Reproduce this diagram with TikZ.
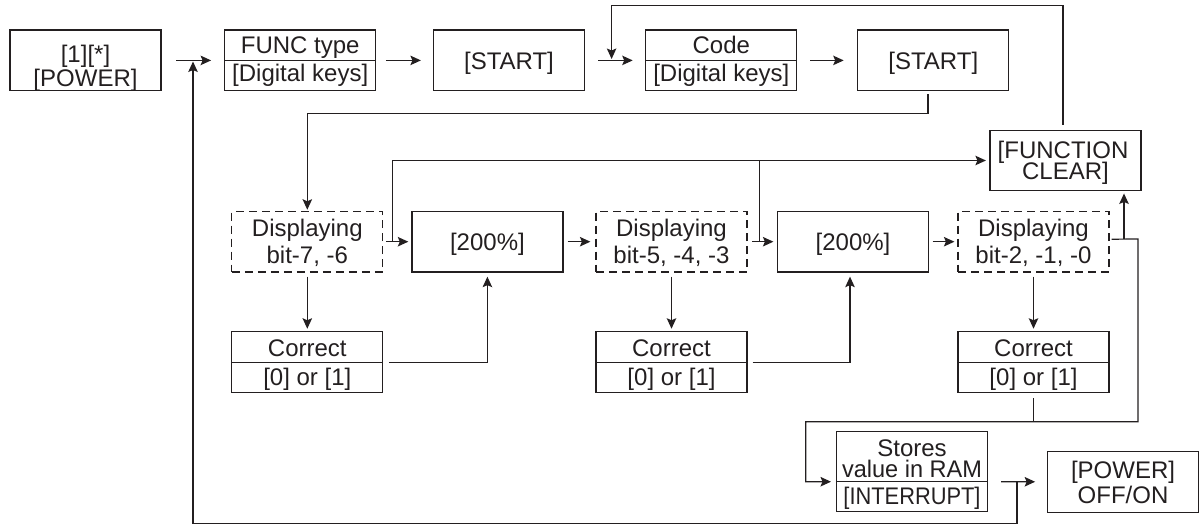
\documentclass[tikz,border=0pt]{standalone}
\usepackage{fontspec}
\usepackage{graphicx}
\setmainfont{Liberation Sans}
\usetikzlibrary{arrows.meta,calc}
\definecolor{ink}{RGB}{35,31,32}
\newcommand\fsz{\fontsize{24}{24}\selectfont}
\tikzset{
  box/.style={draw=ink, line width=1.2pt, minimum width=151pt, minimum height=60.7pt, inner sep=0pt},
  dbox/.style={box, dash pattern=on 8pt off 5pt},
  txt/.style={inner sep=0pt, anchor=base, font=\fsz, text=ink},
  ln/.style={draw=ink, line width=1.2pt},
  arr/.style={ln, -{Stealth[length=10.5pt, width=9.5pt, inset=2pt]}}
}
\begin{document}
\begin{tikzpicture}[x=1pt, y=-1pt]
\useasboundingbox (0,0) rectangle (1199,525);

% ---- top row ----
\node[box] (pw) at (85.5,60.4) {};
\node[txt] (pw-a) at (85.5,62.7) {[1][*]};
\node[txt] (pw-b) at (85.5,86) {[POWER]};

\node[box] (func) at (300.2,60.4) {};
\node[txt] (func-a) at (300.2,53.3) {FUNC type};
\node[txt] (func-b) at (300.2,81.7) {[Digital keys]};
\draw[ln] (func.west) -- (func.east);

\node[box] (st1) at (509,60.4) {};
\node[txt] (st1-a) at (509,69) {[START]};

\node[box] (code) at (721.3,60.4) {};
\node[txt] (code-a) at (721.3,53.3) {Code};
\node[txt] (code-b) at (721.3,81.7) {[Digital keys]};
\draw[ln] (code.west) -- (code.east);

\node[box] (st2) at (933.3,60.4) {};
\node[txt] (st2-a) at (933.3,69) {[START]};

% ---- function clear ----
\node[box] (fc) at (1065.5,160.5) {};
\node[txt] (fc-a) at (1063,158.3) {[FUNCTION};
\node[txt] (fc-b) at (1065.5,179.7) {CLEAR]};

% ---- display / 200% row ----
\node[dbox] (d1) at (307.3,241.7) {};
\node[txt] (d1-a) at (307.3,236.7) {Displaying};
\node[txt] (d1-b) at (307.3,263.3) {bit-7, -6};

\node[box] (p1) at (487.4,241.7) {};
\node[txt] (p1-a) at (487.4,250) {[200\%]};

\node[dbox] (d2) at (671.5,241.7) {};
\node[txt] (d2-a) at (671.5,236.7) {Displaying};
\node[txt] (d2-b) at (671.5,263.3) {bit-5, -4, -3};

\node[box] (p2) at (853,241.7) {};
\node[txt] (p2-a) at (853,250) {[200\%]};

\node[dbox] (d3) at (1033.5,241.7) {};
\node[txt] (d3-a) at (1033.5,236.7) {Displaying};
\node[txt] (d3-b) at (1033.5,263.3) {bit-2, -1, -0};

% ---- correct boxes ----
\node[box] (c1) at (307.3,362.2) {};
\node[txt] (c1-a) at (307.3,356) {Correct};
\node[txt] (c1-b) at (307.3,385.3) {[0] or [1]};
\draw[ln] (c1.west) -- (c1.east);

\node[box] (c2) at (671.5,362.2) {};
\node[txt] (c2-a) at (671.5,356) {Correct};
\node[txt] (c2-b) at (671.5,385.3) {[0] or [1]};
\draw[ln] (c2.west) -- (c2.east);

\node[box] (c3) at (1033.5,362.2) {};
\node[txt] (c3-a) at (1033.5,356) {Correct};
\node[txt] (c3-b) at (1033.5,385.3) {[0] or [1]};
\draw[ln] (c3.west) -- (c3.east);

% ---- store and power cycle ----
\node[box, minimum height=80pt] (stores) at (912,471.7) {};
\node[txt] (stores-a) at (912,456) {Stores};
\node[txt] (stores-b) at (912,477) {\scalebox{0.98}[1]{value in RAM}};
\node[txt] (stores-c) at (912,504.3) {\scalebox{0.91}[1]{[INTERRUPT]}};
\draw[ln] ([yshift=-10pt]stores.west) -- ([yshift=-10pt]stores.east);

\node[box, minimum width=150.5pt] (off) at (1123,481.8) {};
\node[txt] (off-a) at (1123,478.3) {[POWER]};
\node[txt] (off-b) at (1123,503.8) {OFF/ON};

% ---- junction points ----
\coordinate (in-func) at (193,61.5);
\coordinate (in-code) at (611.6,59);
\coordinate (j1) at (392.3,241.7);
\coordinate (j2) at (759.6,241.7);
\coordinate (j3) at (1124,239);
\coordinate (r1) at (1138,239);
\coordinate (r2) at (1138,421.7);
\coordinate (l2) at (805.7,421.7);
\coordinate (stores-in) at (836,481.7);
\coordinate (jb) at (1017,481.7);

% ---- top row connectors ----
\draw[arr, shorten <=14.5pt, shorten >=13pt] (pw) -- (func);
\draw[arr, shorten <=9.5pt, shorten >=12pt] (func) -- (st1);
\draw[arr, shorten <=13pt, shorten >=12.5pt] (st1) -- (code);
\draw[arr, shorten <=13pt, shorten >=13.5pt] (code) -- (st2);

% function clear returns to code entry
\draw[arr, shorten <=5pt] ([xshift=-2.5pt]fc.north) -- ++(0,-124.3) -| (in-code);

% start leads to the first display
\draw[arr, shorten <=3pt, shorten >=1pt] ([xshift=-5.3pt]st2.south) -- ++(0,22) -| (d1.north);

% ---- display row ----
\draw[arr, shorten <=3pt, shorten >=3pt] (d1) -- (p1);
\draw[arr, shorten >=3.5pt] (j1) |- (fc.west);
\draw[arr, shorten <=4pt, shorten >=5pt] (p1) -- (d2);
\draw[arr, shorten <=4.5pt, shorten >=3.5pt] (d2) -- (p2);
\draw[ln] (j2) -- (j2 |- fc.west);
\draw[arr, shorten <=3.5pt, shorten >=3pt] (p2) -- (d3);

% ---- corrections ----
\draw[arr, shorten <=4pt, shorten >=2.5pt] (d1) -- (c1);
\draw[arr, shorten <=5.5pt, shorten >=4pt] (c1.east) -| (p1.south);
\draw[arr, shorten <=4pt, shorten >=2.5pt] (d2) -- (c2);
\draw[arr, shorten <=5pt, shorten >=4pt] (c2.east) -| ([xshift=-3pt]p2.south);
\draw[arr, shorten <=4pt, shorten >=2.5pt] (d3) -- (c3);

% ---- last display: clear or store ----
\draw[arr, shorten >=2pt] (j3) -- (j3 |- fc.south);
\draw[arr, shorten >=5pt] ([xshift=2pt,yshift=2.5pt]d3.east) -- (r1) -- (r2) -- (l2) |- (stores-in);
\draw[ln, shorten <=5pt] (c3.south) -- (c3.south |- r2);

% ---- power cycle and loop back ----
\draw[arr, shorten <=13pt, shorten >=12pt] ([yshift=-10pt]stores.east) -- (off.west);
\draw[arr] (jb) -- ++(0,41.8) -| (in-func);
\end{tikzpicture}
\end{document}
